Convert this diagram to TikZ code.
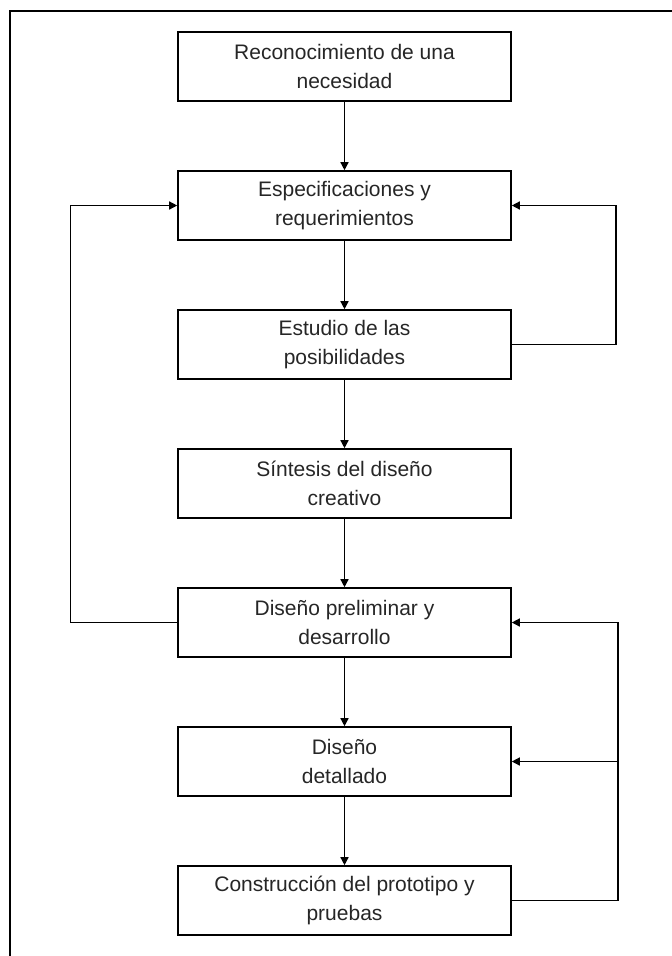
\documentclass[tikz,border=0pt]{standalone}
\usepackage{fontspec}
\setmainfont{Liberation Sans}
\usetikzlibrary{arrows.meta}
\begin{document}
\begin{tikzpicture}[x=1pt,y=-1pt,
  stepbox/.style={draw=black, line width=1.6pt, minimum width=333pt, minimum height=69pt,
    inner sep=0pt, align=center, font=\fontsize{21}{29}\selectfont, text=black!85},
  conn/.style={line width=1.4pt, draw=black},
  arr/.style={conn, -{Triangle[length=8pt,width=8pt]}}]
\useasboundingbox (0,0) rectangle (672,956);
\draw[line width=2pt] (10,956) -- (10,11) -- (672,11);
\node[stepbox] (b1) at (344.5,66.5) {Reconocimiento de una\\necesidad};
\node[stepbox] (b2) at (344.5,205.5) {Especificaciones y\\requerimientos};
\node[stepbox] (b3) at (344.5,344.5) {Estudio de las\\posibilidades};
\node[stepbox] (b4) at (344.5,483.5) {Síntesis del diseño\\creativo};
\node[stepbox] (b5) at (344.5,622.5) {Diseño preliminar y\\desarrollo};
\node[stepbox] (b6) at (344.5,761.5) {Diseño\\detallado};
\node[stepbox] (b7) at (344.5,900.5) {Construcción del prototipo y\\pruebas};
\draw[arr] (b1) -- (b2);
\draw[arr] (b2) -- (b3);
\draw[arr] (b3) -- (b4);
\draw[arr] (b4) -- (b5);
\draw[arr] (b5) -- (b6);
\draw[arr] (b6) -- (b7);
\draw[arr] (b5.west) -- ++(-107,0) |- (b2.west);
\draw[arr] (b3.east) -- ++(104,0) |- (b2.east);
\draw[arr] (b7.east) -- ++(106,0) |- (b5.east);
\coordinate (j) at (617,761.5);
\draw[arr] (j) -- (b6.east);
\end{tikzpicture}
\end{document}
